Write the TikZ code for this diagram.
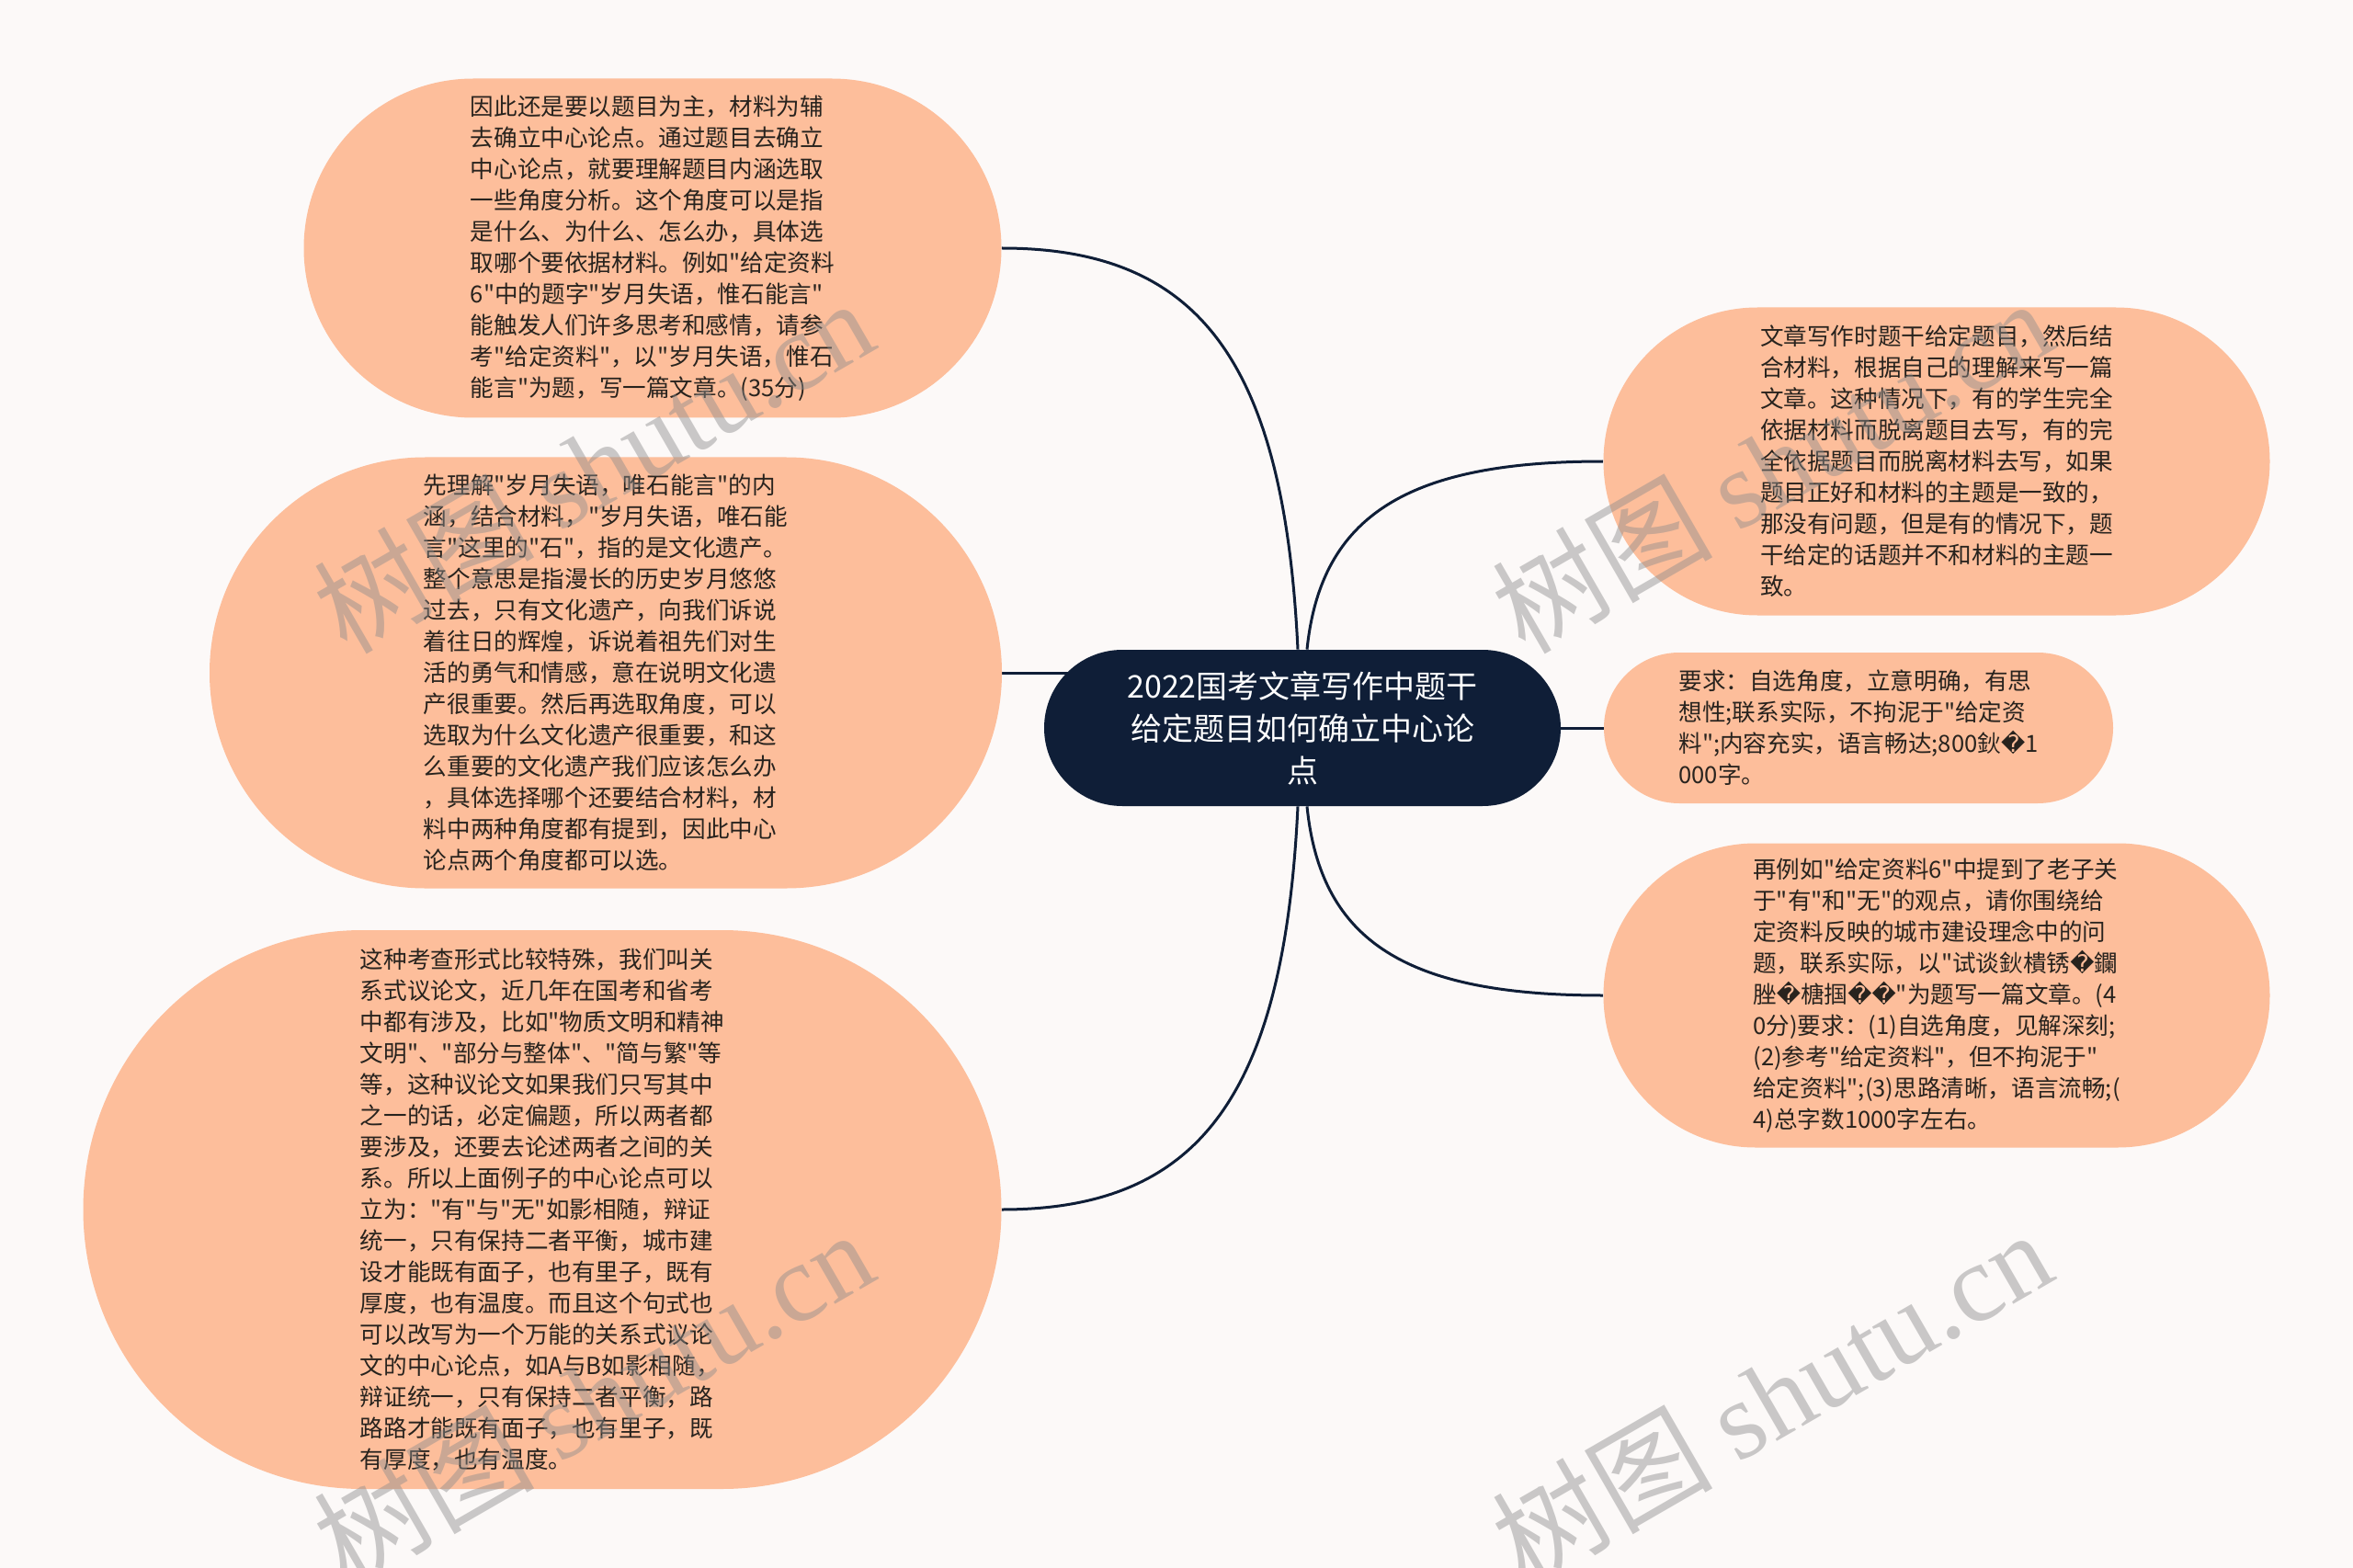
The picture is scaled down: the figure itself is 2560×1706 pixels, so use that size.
\documentclass[tikz,border=0pt]{standalone}
\usepackage{fontspec}
\setmainfont{Noto Sans CJK SC}[Ligatures=TeXOff]
\newfontfamily\replfont{DejaVu Sans}
\newfontfamily\wmfont{Liberation Serif}
\usetikzlibrary{shapes.misc,backgrounds}
\definecolor{bgcol}{RGB}{252,249,248}
\definecolor{peach}{RGB}{253,190,155}
\definecolor{navy}{RGB}{15,30,55}
\definecolor{txtcol}{RGB}{40,35,30}
\definecolor{wmcol}{RGB}{140,140,140}
\newcommand\rpl{{\replfont\symbol{"FFFD}}}
\begin{document}
\begin{tikzpicture}[x=0.5pt,y=-0.5pt]
    \tikzstyle{topic}=[rounded rectangle, fill=peach, text=txtcol, align=left, inner sep=2pt, font=\fontsize{12.8pt}{17pt}\selectfont]
    \tikzstyle{root}=[rounded rectangle, fill=navy, text=white, align=center, inner sep=2pt, minimum width=285pt, minimum height=85pt, font=\fontsize{17pt}{23pt}\selectfont]
    \tikzstyle{link}=[navy, line width=1.5pt]
    \tikzstyle{wmark}=[text=wmcol, opacity=0.45, rotate=30, font=\fontsize{60pt}{60pt}\selectfont]
    \useasboundingbox (0,0) rectangle (2560,1706);
    % centre
    \node [root] (ctr) at (1417,792) {2022国考文章写作中题干\\给定题目如何确立中心论\\点};
    % left side
    \node [topic, minimum width=383.5pt, minimum height=184.5pt] (l1) at (710,270) {因此还是要以题目为主，材料为辅\\去确立中心论点。通过题目去确立\\中心论点，就要理解题目内涵选取\\一些角度分析。这个角度可以是指\\是什么、为什么、怎么办，具体选\\取哪个要依据材料。例如"给定资料\\6"中的题字"岁月失语，惟石能言"\\能触发人们许多思考和感情，请参\\考"给定资料"，以"岁月失语，惟石\\能言"为题，写一篇文章。(35分)};
    \node [topic, minimum width=435pt, minimum height=234.5pt] (l2) at (659,732) {先理解"岁月失语，唯石能言"的内\\涵，结合材料，"岁月失语，唯石能\\言"这里的"石"，指的是文化遗产。\\整个意思是指漫长的历史岁月悠悠\\过去，只有文化遗产，向我们诉说\\着往日的辉煌，诉说着祖先们对生\\活的勇气和情感，意在说明文化遗\\产很重要。然后再选取角度，可以\\选取为什么文化遗产很重要，和这\\么重要的文化遗产我们应该怎么办\\，具体选择哪个还要结合材料，材\\料中两种角度都有提到，因此中心\\论点两个角度都可以选。};
    \node [topic, minimum width=503.5pt, minimum height=304pt] (l3) at (590,1316) {这种考查形式比较特殊，我们叫关\\系式议论文，近几年在国考和省考\\中都有涉及，比如"物质文明和精神\\文明"、"部分与整体"、"简与繁"等\\等，这种议论文如果我们只写其中\\之一的话，必定偏题，所以两者都\\要涉及，还要去论述两者之间的关\\系。所以上面例子的中心论点可以\\立为："有"与"无"如影相随，辩证\\统一，只有保持二者平衡，城市建\\设才能既有面子，也有里子，既有\\厚度，也有温度。而且这个句式也\\可以改写为一个万能的关系式议论\\文的中心论点，如A与B如影相随，\\辩证统一，只有保持二者平衡，路\\路路才能既有面子，也有里子，既\\有厚度，也有温度。};
    % right side
    \node [topic, minimum width=366.5pt, minimum height=167.5pt] (r1) at (2107,502) {文章写作时题干给定题目，然后结\\合材料，根据自己的理解来写一篇\\文章。这种情况下，有的学生完全\\依据材料而脱离题目去写，有的完\\全依据题目而脱离材料去写，如果\\题目正好和材料的主题是一致的，\\那没有问题，但是有的情况下，题\\干给定的话题并不和材料的主题一\\致。};
    \node [topic, minimum width=281pt, minimum height=82pt] (r2) at (2022,792) {要求：自选角度，立意明确，有思\\想性;联系实际，不拘泥于"给定资\\料";内容充实，语言畅达;800鈥\rpl 1\\000字。};
    \node [topic, minimum width=366.5pt, minimum height=165.5pt] (r3) at (2107,1083) {再例如"给定资料6"中提到了老子关\\于"有"和"无"的观点，请你围绕给\\定资料反映的城市建设理念中的问\\题，联系实际，以"试谈鈥樻锈\rpl 鑭\\脞\rpl 榶掴\rpl\rpl "为题写一篇文章。(4\\0分)要求：(1)自选角度，见解深刻;\\(2)参考"给定资料"，但不拘泥于"\\给定资料";(3)思路清晰，语言流畅;(\\4)总字数1000字左右。};
    \begin{pgfonlayer}{background}
        \fill [bgcol] (0,0) rectangle (2560,1706);
        \draw [link] ([xshift=-2.5pt]ctr.north) .. controls +(-15,-315) and +(214,0) .. (l1.east);
        \draw [link] (l2.east) -- (l2.east -| ctr.center);
        \draw [link] ([xshift=-2.5pt]ctr.south) .. controls +(-15,316) and +(214,0) .. (l3.east);
        \draw [link] ([xshift=2.5pt]ctr.north) .. controls +(15,-147) and +(-211,0) .. (r1.west);
        \draw [link] (ctr.center |- r2.west) -- (r2.west);
        \draw [link] ([xshift=2.5pt]ctr.south) .. controls +(15,148) and +(-213,0) .. (r3.west);
    \end{pgfonlayer}
    % watermarks
    \node [wmark] (w1) at (645,506) {树图 {\wmfont shutu.cn}};
    \node [wmark] (w2) at (1927,506) {树图 {\wmfont shutu.cn}};
    \node [wmark] (w3) at (645,1519) {树图 {\wmfont shutu.cn}};
    \node [wmark] (w4) at (1927,1519) {树图 {\wmfont shutu.cn}};
\end{tikzpicture}
\end{document}
